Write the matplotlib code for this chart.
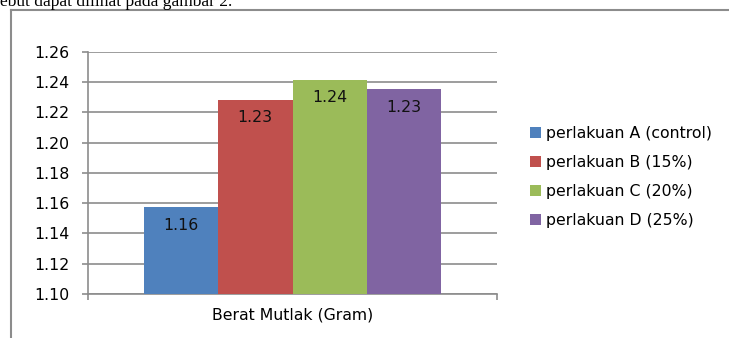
import matplotlib.pyplot as plt
from matplotlib.lines import Line2D

# Data
labels = ['perlakuan A (control)', 'perlakuan B (15%)', 'perlakuan C (20%)', 'perlakuan D (25%)']
values = [1.1574, 1.2284, 1.2416, 1.2352]
value_text = ['1.16', '1.23', '1.24', '1.23']
category = 'Berat Mutlak (Gram)'
yticks = [1.10, 1.12, 1.14, 1.16, 1.18, 1.20, 1.22, 1.24, 1.26]
colors = ['#4F81BD', '#C0504D', '#9BBB59', '#8064A2']

plt.rcParams['font.family'] = 'DejaVu Sans'
fs = 11.3
grey = '#8c8c8c'

W, H = 729, 338
fig = plt.figure(figsize=(W / 100, H / 100), dpi=100)

# Caption line, cut off at the top as in the source page
fig.text(0, 1 - 6 / H, 'ebut dapat dilihat pada gambar 2.', family='Liberation Serif',
         fontsize=12.5, va='baseline', ha='left')

# Outer chart frame (top and left edges visible)
fig.add_artist(Line2D([11 / W, 11 / W], [0, 1 - 10 / H], transform=fig.transFigure,
                      color=grey, lw=1.5))
fig.add_artist(Line2D([11 / W, 1], [1 - 10 / H, 1 - 10 / H], transform=fig.transFigure,
                      color=grey, lw=1.5))

ax = fig.add_axes([88 / W, 44 / H, (497 - 88) / W, (294 - 51.7) / H])
bw = 0.182
for i, (v, c, t) in enumerate(zip(values, colors, value_text)):
    x = (i - 1.5) * bw
    ax.bar(x, v - 1.10, bottom=1.10, width=bw, color=c, label=labels[i], zorder=3)
    ax.annotate(t, (x, v), xytext=(0, -13), textcoords='offset points',
                ha='center', va='center', fontsize=fs, color='#111111', zorder=4)

ax.set_xlim(-0.5, 0.5)
ax.set_ylim(1.10, 1.26)
ax.set_yticks(yticks)
ax.set_yticklabels([f'{y:.2f}' for y in yticks], fontsize=fs)
ax.set_xticks([-0.5, 0.5])
ax.set_xticklabels([])
ax.text(0, -0.085, category, transform=ax.get_xaxis_transform(), ha='center',
        va='center', fontsize=fs)
ax.grid(axis='y', color=grey, lw=1.2, zorder=0)
ax.tick_params(axis='y', length=4.5, width=1.2, color=grey, pad=9)
ax.tick_params(axis='x', length=4, width=1.2, color=grey)
for s in ['top', 'right']:
    ax.spines[s].set_visible(False)
for s in ['left', 'bottom']:
    ax.spines[s].set_color(grey)
    ax.spines[s].set_linewidth(1.2)

leg = fig.legend(loc='upper left', bbox_to_anchor=(522 / W, 1 - 118 / H), frameon=False,
                 fontsize=fs, handlelength=0.7, handleheight=0.7, handletextpad=0.35,
                 labelspacing=0.9, borderpad=0)

fig.savefig('out.png', dpi=100)
